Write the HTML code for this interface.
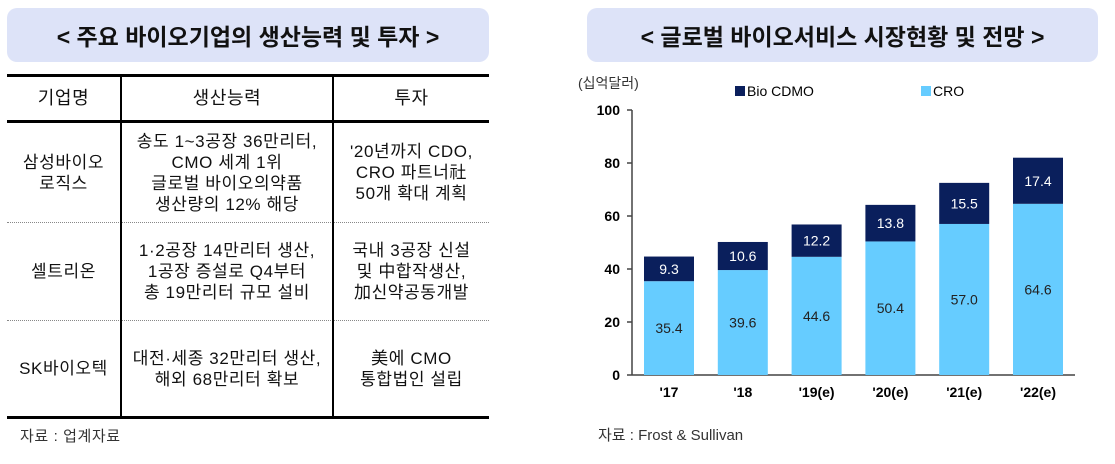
<!DOCTYPE html>
<html><head><meta charset="utf-8"><style>
body{margin:0;width:1115px;height:464px;background:#fff;position:relative;overflow:hidden;font-family:"Liberation Sans","Noto Sans CJK KR",sans-serif;color:#111}
.title{position:absolute;top:8px;height:54px;background:#dde3f8;border-radius:10px;font-weight:bold;font-size:23px;display:flex;align-items:center;justify-content:center}
.cell{position:absolute;display:flex;align-items:center;justify-content:center;text-align:center;font-size:17px;line-height:21px;letter-spacing:0.6px}
.hl{position:absolute;left:7px;width:482px;background:#000}
.vl{position:absolute;width:2px;background:#000;top:75px;height:342px}
.dl{position:absolute;left:7px;width:482px;border-top:1px dotted #888;height:0}
</style></head><body>
<div class="title" style="left:7px;width:482px">&lt; 주요 바이오기업의 생산능력 및 투자 &gt;</div>
<div class="hl" style="top:74px;height:3px"></div>
<div class="hl" style="top:120px;height:3px"></div>
<div class="dl" style="top:222px"></div>
<div class="dl" style="top:320px"></div>
<div class="hl" style="top:416px;height:3px"></div>
<div class="vl" style="left:120px"></div>
<div class="vl" style="left:332px"></div>
<div class="cell" style="left:7px;width:113px;top:77px;height:43px;font-size:18px">기업명</div>
<div class="cell" style="left:122px;width:210px;top:77px;height:43px;font-size:18px">생산능력</div>
<div class="cell" style="left:334px;width:155px;top:77px;height:43px;font-size:18px">투자</div>
<div class="cell" style="left:7px;width:113px;top:123px;height:99px">삼성바이오<br>로직스</div>
<div class="cell" style="left:122px;width:210px;top:123px;height:99px">송도 1~3공장 36만리터,<br>CMO 세계 1위<br>글로벌 바이오의약품<br>생산량의 12% 해당</div>
<div class="cell" style="left:334px;width:155px;top:123px;height:99px">'20년까지 CDO,<br>CRO 파트너社<br>50개 확대 계획</div>
<div class="cell" style="left:7px;width:113px;top:223px;height:97px">셀트리온</div>
<div class="cell" style="left:122px;width:210px;top:223px;height:97px">1·2공장 14만리터 생산,<br>1공장 증설로 Q4부터<br>총 19만리터 규모 설비</div>
<div class="cell" style="left:334px;width:155px;top:223px;height:97px">국내 3공장 신설<br>및 中합작생산,<br>加신약공동개발</div>
<div class="cell" style="left:7px;width:113px;top:321px;height:95px">SK바이오텍</div>
<div class="cell" style="left:122px;width:210px;top:321px;height:95px">대전·세종 32만리터 생산,<br>해외 68만리터 확보</div>
<div class="cell" style="left:334px;width:155px;top:321px;height:95px">美에 CMO<br>통합법인 설립</div>
<div style="position:absolute;left:20px;top:425px;font-size:15px;color:#333;letter-spacing:0.6px">자료 : 업계자료</div>

<div class="title" style="left:587px;width:511px">&lt; 글로벌 바이오서비스 시장현황 및 전망 &gt;</div>
<svg id="chart" style="position:absolute;left:0;top:0" width="1115" height="464"></svg>
<div style="position:absolute;left:598px;top:424px;font-size:15px;color:#333">자료 : Frost &amp; Sullivan</div>
<script>
const categories=["'17","'18","'19(e)","'20(e)","'21(e)","'22(e)"];
const croValues=[35.4,39.6,44.6,50.4,57.0,64.6];
const cdmoValues=[9.3,10.6,12.2,13.8,15.5,17.4];
const yTicks=[0,20,40,60,80,100];
const svg=document.getElementById('chart');
const NS='http://www.w3.org/2000/svg';
const y0=375,yTop=110,yMax=100;
const y=v=>y0-(v/yMax)*(y0-yTop);
const step=73.8,x0=632;
const xc=i=>x0+12+25+i*step;
const bw=50;
function mk(t,a){const e=document.createElementNS(NS,t);for(const k in a)e.setAttribute(k,a[k]);svg.appendChild(e);return e;}
let ax=mk('line',{x1:x0,y1:yTop,x2:x0,y2:y0,stroke:'#444','stroke-width':1.5});


let bx=mk('line',{x1:x0,y1:y0,x2:1075,y2:y0,stroke:'#444','stroke-width':1.5});


yTicks.forEach(t=>{
 mk('line',{x1:x0-5,y1:y(t),x2:x0,y2:y(t),stroke:'#444','stroke-width':1.5});
 const tx=mk('text',{x:x0-12,y:y(t)+5,'text-anchor':'end','font-size':14,'font-weight':'bold','font-family':'Liberation Sans'});
 tx.textContent=t;
 
 
});
categories.forEach((c,i)=>{
 const cx=xc(i);
 const r1=mk('rect',{x:cx-bw/2,y:y(croValues[i]),width:bw,height:y0-y(croValues[i]),fill:'#66ccff'});
 
 
 const tot=croValues[i]+cdmoValues[i];
 const r2=mk('rect',{x:cx-bw/2,y:y(tot),width:bw,height:y(croValues[i])-y(tot),fill:'#0a1f5c'});
 
 
 const l1=mk('text',{x:cx,y:(y(croValues[i])+y0)/2+5,'text-anchor':'middle','font-size':14,fill:'#222','font-family':'Liberation Sans'});
 l1.textContent=croValues[i].toFixed(1);
 
 
 const l2=mk('text',{x:cx,y:(y(tot)+y(croValues[i]))/2+5,'text-anchor':'middle','font-size':14,fill:'#fff','font-family':'Liberation Sans'});
 l2.textContent=cdmoValues[i].toFixed(1);
 
 
 const xl=mk('text',{x:cx,y:y0+22,'text-anchor':'middle','font-size':14,'font-weight':'bold','font-family':'Liberation Sans'});
 xl.textContent=c;
 
 
});
const u=mk('text',{x:578,y:88,'font-size':14,fill:'#333','font-family':'Liberation Sans, Noto Sans CJK KR, sans-serif'});
u.textContent='(십억달러)';


[[735,'#0a1f5c','Bio CDMO'],[921,'#66ccff','CRO']].forEach(([lx,col,lab])=>{
 const s=mk('rect',{x:lx,y:86,width:10,height:10,fill:col});
 
 
 const t=mk('text',{x:lx+12,y:96,'font-size':14,'font-family':'Liberation Sans'});
 t.textContent=lab;
 
 
});
</script>
</body></html>
